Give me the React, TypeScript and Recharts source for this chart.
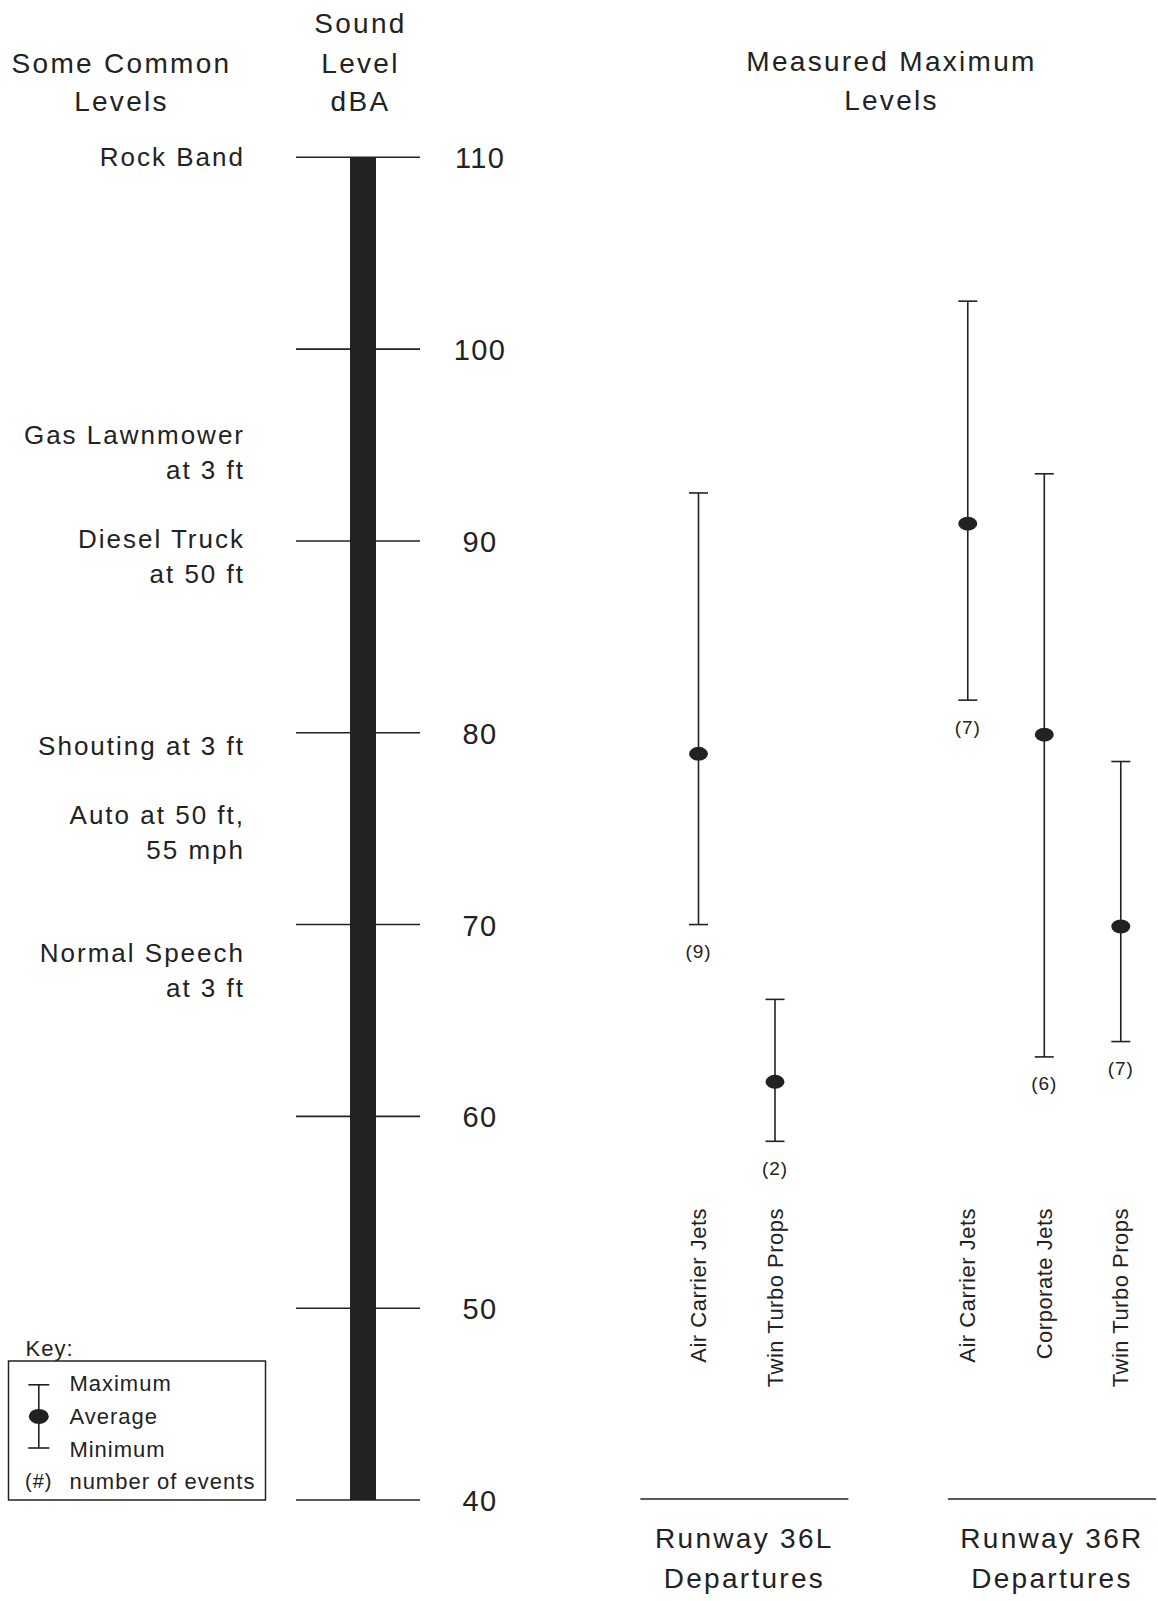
import React from 'react';
import { ComposedChart, Scatter, ErrorBar, XAxis, YAxis, Legend } from 'recharts';

// ---------- data ----------
const groups = ['Runway 36L', 'Runway 36R'];
const groupSubtitle = 'Departures';
const categories = ['Air Carrier Jets', 'Twin Turbo Props', 'Air Carrier Jets', 'Corporate Jets', 'Twin Turbo Props'];
const categoryGroup = [0, 0, 1, 1, 1];
const maxLevels = [92.5, 66.1, 102.5, 93.5, 78.5];
const avgLevels = [78.9, 61.8, 90.9, 79.9, 69.9];
const minLevels = [70.0, 58.7, 81.7, 63.1, 63.9];
const eventCounts = [9, 2, 7, 6, 7];

const dbTicks = [40, 50, 60, 70, 80, 90, 100, 110];
const commonLevelLabels = [
  ['Rock Band'],
  ['Gas Lawnmower', 'at 3 ft'],
  ['Diesel Truck', 'at 50 ft'],
  ['Shouting at 3 ft'],
  ['Auto at 50 ft,', '55 mph'],
  ['Normal Speech', 'at 3 ft'],
];
const commonLevelDb = [110, 94.6, 89.2, 79.3, 74.8, 67.6];

const keyItems = ['Maximum', 'Average', 'Minimum', 'number of events'];

// ---------- layout ----------
const W = 1158;
const H = 1601;
const INK = '#222';
const FONT = '"Liberation Sans", Arial, Helvetica, sans-serif';
const GROUP_STEP = 3.52;
const X_DOMAIN: [number, number] = [-4.3856, 6.0065];

// build table
const groupCounters: number[] = groups.map(() => 0);
const table = categories.map((name, i) => {
  const g = categoryGroup[i];
  const k = groupCounters[g]++;
  return {
    name,
    slot: g * GROUP_STEP + k,
    max: maxLevels[i],
    avg: avgLevels[i],
    min: minLevels[i],
    n: eventCounts[i],
  };
});
const slots = table.map((r) => r.slot);
const groupCenters = groups.map((_, g) => {
  const s = table.filter((_, i) => categoryGroup[i] === g).map((r) => r.slot);
  return s.reduce((a, b) => a + b, 0) / s.length + 0.1;
});

const txt = (size: number, spacing: number) => ({
  fontFamily: FONT,
  fontSize: size,
  fill: INK,
  letterSpacing: `${spacing}px`,
});

// ---------- custom ticks / shapes ----------
const DbTick = (props: any) => {
  const { x, y, payload } = props;
  return (
    <g>
      <line x1={x - 67} x2={x + 57} y1={y} y2={y} stroke={INK} strokeWidth={1.6} />
      <text x={x + 117} y={y + 1} textAnchor="middle" dominantBaseline="central" style={txt(29, 1.3)}>
        {payload.value}
      </text>
    </g>
  );
};

const CommonTick = (props: any) => {
  const { x, y, payload } = props;
  const idx = commonLevelDb.indexOf(payload.value);
  const lines = idx >= 0 ? commonLevelLabels[idx] : [];
  const lh = 34.7;
  return (
    <g>
      {lines.map((l, i) => (
        <text
          key={i}
          x={x}
          y={y + (i - (lines.length - 1) / 2) * lh}
          textAnchor="end"
          dominantBaseline="central"
          style={txt(26, 2)}
        >
          {l}
        </text>
      ))}
    </g>
  );
};

const CatTick = (props: any) => {
  const { x, y, payload } = props;
  const row = table.find((r) => Math.abs(r.slot - payload.value) < 1e-6);
  const ty = 1208 - 1500 + y;
  return (
    <text
      x={x}
      y={ty}
      transform={`rotate(-90 ${x} ${ty})`}
      textAnchor="end"
      dominantBaseline="central"
      style={txt(22, 0.5)}
    >
      {row ? row.name : ''}
    </text>
  );
};

const GroupTick = (props: any) => {
  const { x, y, payload } = props;
  const idx = groupCenters.indexOf(payload.value);
  return (
    <g>
      <line x1={x - 104} x2={x + 104} y1={y - 2} y2={y - 2} stroke={INK} strokeWidth={1.6} />
      <text x={x} y={y + 37} textAnchor="middle" dominantBaseline="central" style={txt(28, 2.3)}>
        {groups[idx]}
      </text>
      <text x={x} y={y + 77} textAnchor="middle" dominantBaseline="central" style={txt(28, 2.3)}>
        {groupSubtitle}
      </text>
    </g>
  );
};

const AvgDot = (props: any) => {
  const { cx, cy } = props;
  return <ellipse cx={cx} cy={cy} rx={9.5} ry={7} fill={INK} />;
};

const CountLabel = (props: any) => {
  const { cx, cy, payload } = props;
  return (
    <text x={cx} y={cy + 27} textAnchor="middle" dominantBaseline="central" style={txt(19, 1)}>
      ({payload.n})
    </text>
  );
};

const KeyBox = () => {
  const ix = 38.8;
  const ys = [63.8, 96.4, 129, 161.8];
  return (
    <svg width={270} height={185} style={{ display: 'block' }}>
      <text x={25.5} y={28} dominantBaseline="central" style={txt(22, 1)}>
        Key:
      </text>
      <rect x={8.5} y={41} width={257} height={139} fill="none" stroke={INK} strokeWidth={1.5} />
      <line x1={ix} x2={ix} y1={64.8} y2={128} stroke={INK} strokeWidth={1.6} />
      <line x1={ix - 10.5} x2={ix + 10.5} y1={64.8} y2={64.8} stroke={INK} strokeWidth={1.6} />
      <line x1={ix - 10.5} x2={ix + 10.5} y1={128} y2={128} stroke={INK} strokeWidth={1.6} />
      <ellipse cx={ix} cy={96.4} rx={10} ry={7.5} fill={INK} />
      <text x={ix} y={161} textAnchor="middle" dominantBaseline="central" style={txt(20, 1)}>
        (#)
      </text>
      {keyItems.map((k, i) => (
        <text key={k} x={69.4} y={ys[i]} dominantBaseline="central" style={txt(22, 1)}>
          {k}
        </text>
      ))}
    </svg>
  );
};

const Title = ({ x, ys, lines }: { x: number; ys: number[]; lines: string[] }) => (
  <g>
    {lines.map((l, i) => (
      <text key={i} x={x} y={ys[i]} textAnchor="middle" dominantBaseline="central" style={txt(28, 2.3)}>
        {l}
      </text>
    ))}
  </g>
);

export default function App() {
  return (
    <div style={{ position: 'absolute', left: 0, top: 0, width: W, height: H, background: '#fff' }}>
      <ComposedChart width={W} height={H} data={table} margin={{ top: 157.3, right: 0, bottom: 0, left: 0 }}>
        <XAxis
          xAxisId="grp"
          dataKey="slot"
          type="number"
          domain={X_DOMAIN}
          allowDataOverflow
          ticks={groupCenters}
          interval={0}
          height={100}
          axisLine={false}
          tickLine={false}
          tickSize={0}
          tickMargin={0}
          tick={<GroupTick />}
        />
        <XAxis
          xAxisId="cat"
          dataKey="slot"
          type="number"
          domain={X_DOMAIN}
          allowDataOverflow
          ticks={slots}
          interval={0}
          height={1}
          axisLine={false}
          tickLine={false}
          tickSize={0}
          tickMargin={0}
          tick={<CatTick />}
        />
        <YAxis
          yAxisId="b-common"
          type="number"
          domain={[40, 110]}
          allowDataOverflow
          ticks={commonLevelDb}
          interval={0}
          width={245}
          axisLine={false}
          tickLine={false}
          tickSize={0}
          tickMargin={0}
          tick={<CommonTick />}
        />
        <YAxis
          yAxisId="a-ruler"
          type="number"
          domain={[40, 110]}
          allowDataOverflow
          ticks={dbTicks}
          interval={0}
          width={118}
          tickLine={false}
          tickSize={0}
          tickMargin={0}
          axisLine={{ stroke: INK, strokeWidth: 26 }}
          tick={<DbTick />}
        />
        <Scatter
          xAxisId="cat"
          yAxisId="a-ruler"
          dataKey="avg"
          shape={<AvgDot />}
          isAnimationActive={false}
        >
          <ErrorBar
            dataKey={(d: any) => [d.avg - d.min, d.max - d.avg]}
            direction="y"
            width={9.5}
            stroke={INK}
            strokeWidth={1.6}
            isAnimationActive={false}
          />
        </Scatter>
        <Scatter
          xAxisId="grp"
          yAxisId="b-common"
          dataKey="min"
          shape={<CountLabel />}
          isAnimationActive={false}
        />
        <Legend
          layout="horizontal"
          verticalAlign="middle"
          align="center"
          content={<KeyBox />}
          wrapperStyle={{ left: 0, top: 1320, width: 270, height: 185 }}
        />
        <Title x={121.5} ys={[63.3, 101]} lines={['Some Common', 'Levels']} />
        <Title x={360.5} ys={[23.5, 63.3, 101]} lines={['Sound', 'Level', 'dBA']} />
        <Title x={891.5} ys={[61.3, 100]} lines={['Measured Maximum', 'Levels']} />
      </ComposedChart>
    </div>
  );
}
